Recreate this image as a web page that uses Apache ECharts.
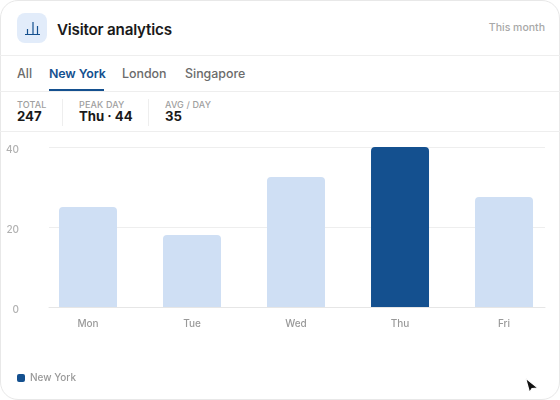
<!DOCTYPE html>
<html><head><meta charset="utf-8">
<script src="https://cdn.jsdelivr.net/npm/echarts@6/dist/echarts.min.js"></script>
<style>
html,body{margin:0;padding:0;background:#fff;width:560px;height:400px;overflow:hidden;font-family:Inter,sans-serif}
#card{position:absolute;left:0;top:0;box-sizing:border-box;width:560px;height:400px;border:1.5px solid #e8e8e8;border-radius:18px;background:#fff}
.t{position:absolute;white-space:nowrap}
.line{position:absolute;background:#eeeeee;height:1px}
.v{position:absolute;background:#eeeeee;width:1px;top:99px;height:27px}
#chart{position:absolute;left:0;top:132px;width:560px;height:268px}
.lab{font-size:9px;font-weight:500;color:#a0a0a0;top:99px;letter-spacing:.15px}
.num{font-size:13.2px;font-weight:700;color:#1a1a1a;top:108px}
.tab{font-size:12.4px;font-weight:500;color:#6b6b6b;top:66px}
</style></head><body>
<div id="card"></div>
<div class="t" style="left:17px;top:13px;width:30px;height:30px;border-radius:8px;background:#e2ecfa"></div>
<svg class="t" style="left:24px;top:20px" width="17" height="16" viewBox="0 0 17 16" fill="none" stroke="#14508f" stroke-width="1.2"><path d="M1 14.5H16M3.5 14.5V9M9 14.5V2M13.5 14.5V6"/></svg>
<div class="t" style="left:57px;top:20px;font-size:15.2px;font-weight:600;color:#1a1a1a;letter-spacing:-.2px">Visitor analytics</div>
<div class="t" style="right:15px;top:21px;font-size:10.5px;font-weight:500;color:#a8a8a8">This month</div>
<div class="line" style="left:0;right:0;top:55px"></div>
<div class="t tab" style="left:17px">All</div>
<div class="t tab" style="left:49px;font-weight:600;color:#14508f;letter-spacing:-.1px">New York</div>
<div class="t tab" style="left:122px">London</div>
<div class="t tab" style="left:185px">Singapore</div>
<div class="t" style="left:49px;top:89px;width:55px;height:2px;background:#14508f"></div>
<div class="line" style="left:0;right:0;top:91px"></div>
<div class="t lab" style="left:17px">TOTAL</div>
<div class="t num" style="left:17px">247</div>
<div class="v" style="left:62px"></div>
<div class="t lab" style="left:79px">PEAK DAY</div>
<div class="t num" style="left:79px">Thu · 44</div>
<div class="v" style="left:148px"></div>
<div class="t lab" style="left:165px">AVG / DAY</div>
<div class="t num" style="left:165px">35</div>
<div class="line" style="left:0;right:0;top:131px"></div>
<div id="chart"></div>
<svg class="t" style="left:522px;top:375px" width="18" height="20" viewBox="0 0 18 20"><path d="M3.5 3L7.5 17.5L10 13.5L16 13Z" fill="#111" stroke="#fff" stroke-width="1.2"/></svg>
<script>
const categories = ['Mon','Tue','Wed','Thu','Fri'];
const seriesName = 'New York';
const visitors = [25, 18, 32.5, 40, 27.5];
const peakDay = 'Thu';
const chart = echarts.init(document.getElementById('chart'), null, {renderer:'canvas'});
chart.setOption({
  animation:false,
  textStyle:{fontFamily:'Inter, sans-serif'},
  grid:{left:49,right:15,top:15,bottom:93},
  legend:{show:true,left:17,top:241,padding:0,icon:'roundRect',itemWidth:8,itemHeight:8,itemGap:8,
    data:[{name:seriesName,itemStyle:{color:'#14508f'}}],
    textStyle:{color:'#999',fontSize:10,fontWeight:500}},
  xAxis:{type:'value',min:-0.375,max:4.394,
    axisLine:{show:true,onZero:false,lineStyle:{color:'#e6e6e6',width:1}},
    axisTick:{show:false},splitLine:{show:false},
    axisLabel:{customValues:categories.map((c,i)=>i),formatter:v=>categories[v],color:'#999',fontSize:10,fontWeight:500,margin:12}},
  yAxis:{type:'value',min:0,max:40,interval:20,
    axisLine:{show:false},axisTick:{show:false},
    splitLine:{lineStyle:{color:'#eeeeee',width:1}},
    axisLabel:{color:'#b0b0b0',fontSize:10,fontWeight:500,margin:30,verticalAlign:'top',lineHeight:6}},
  series:[{name:seriesName,type:'bar',barWidth:58,clip:false,
    data:visitors.map((v,i)=>({value:[i,v],itemStyle:{color:categories[i]===peakDay?'#14508f':'#cfdff4',borderRadius:[4,4,0,0]}}))}]
});
</script>
</body></html>
